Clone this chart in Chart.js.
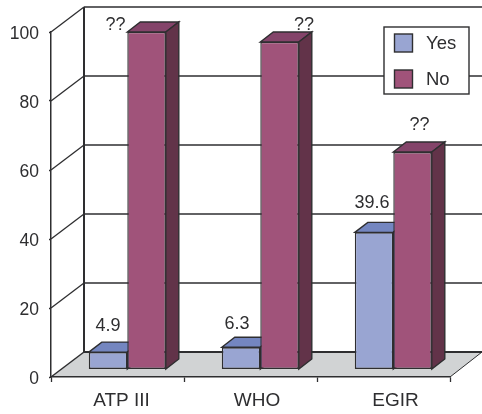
<!DOCTYPE html>
<html>
<head>
<meta charset="utf-8">
<title>ATP III, WHO, EGIR</title>
<script src="https://cdn.jsdelivr.net/npm/chart.js@4"></script>
<style>
    html, body { margin: 0; padding: 0; background: #fff; }
    canvas { display: block; }
</style>
</head>
<body>
<canvas id="chart" width="482" height="414"></canvas>
<script>
const categories = ["ATP III", "WHO", "EGIR"];
const yesValues = [4.9, 6.3, 39.6];
const noValues = [97.7, 94.8, 62.9];
const yesLabels = ["4.9", "6.3", "39.6"];
const noLabels = ["??", "??", "??"];

const FONT = '"Liberation Sans", Arial, sans-serif';
const INK = "#2e2e30";
const YES = { front: "#99a5d2", top: "#7486c0", side: "#5f6ea6" };
const NO = { front: "#a0537a", top: "#84446a", side: "#623349" };

// depth of the floor and of the bars, in pixels
const WALL_DX = 33, WALL_DY = 25;
const BAR_DX = 13, BAR_DY = 10;
const BAR_SHIFT = 9.8;

// hand placement of the text above the bars
const yesNudge = [[0, -26], [-4, -23], [-2, -29]];
const noNudge = [[-31, -7], [24.5, -17], [7, -27]];
const catNudge = [4, 6.5, 12];

function poly(ctx, pts, fill, stroke, lw) {
    ctx.beginPath();
    pts.forEach((p, i) => i ? ctx.lineTo(p[0], p[1]) : ctx.moveTo(p[0], p[1]));
    ctx.closePath();
    if (fill) {
        ctx.fillStyle = fill;
        ctx.fill();
    }
    if (stroke) {
        ctx.strokeStyle = stroke;
        ctx.lineWidth = lw;
        ctx.stroke();
    }
}

function line(ctx, x1, y1, x2, y2, lw) {
    ctx.beginPath();
    ctx.moveTo(x1, y1);
    ctx.lineTo(x2, y2);
    ctx.strokeStyle = INK;
    ctx.lineWidth = lw;
    ctx.stroke();
}

const wallPlugin = {
    id: "wall",
    beforeDraw(chart) {
        const ctx = chart.ctx, a = chart.chartArea, y = chart.scales.y;
        ctx.save();
        ctx.fillStyle = "#fff";
        ctx.fillRect(0, 0, chart.width, chart.height);
        poly(ctx, [[a.left, a.bottom], [a.left + WALL_DX, a.bottom - WALL_DY],
            [chart.width, a.bottom - WALL_DY], [a.right, a.bottom]], "#d1d3d4");
        [20, 40, 60, 80, 100].forEach(v => {
            const py = y.getPixelForValue(v);
            line(ctx, a.left, py, a.left + WALL_DX, py - WALL_DY, 1.3);
            if (v < 100)
                line(ctx, a.left + WALL_DX, py - WALL_DY, chart.width, py - WALL_DY, 1.3);
        });
        line(ctx, a.left, a.bottom, a.left + WALL_DX, a.bottom - WALL_DY, 1.5);
        line(ctx, a.left + WALL_DX, a.top - WALL_DY, chart.width, a.top - WALL_DY, 1.6);
        line(ctx, a.left + WALL_DX, a.top - WALL_DY, a.left + WALL_DX, a.bottom - WALL_DY, 2);
        line(ctx, a.left + WALL_DX, a.bottom - WALL_DY, chart.width, a.bottom - WALL_DY, 2);
        line(ctx, a.right, a.bottom, chart.width, a.bottom - WALL_DY, 1);
        ctx.restore();
    }
};

const depthPlugin = {
    id: "depth",
    beforeDatasetsDraw(chart) {
        const ctx = chart.ctx;
        ctx.save();
        ctx.translate(BAR_SHIFT, 0);
        chart.data.datasets.forEach((ds, i) => {
            const c = i === 0 ? YES : NO;
            chart.getDatasetMeta(i).data.forEach(bar => {
                const l = bar.x - bar.width / 2, r = bar.x + bar.width / 2;
                poly(ctx, [[l, bar.y], [l + BAR_DX, bar.y - BAR_DY], [r + BAR_DX, bar.y - BAR_DY], [r, bar.y]],
                    c.top, INK, 1.4);
                poly(ctx, [[r, bar.y], [r + BAR_DX, bar.y - BAR_DY], [r + BAR_DX, bar.base - BAR_DY], [r, bar.base]],
                    c.side, INK, 1.4);
            });
        });
    },
    afterDatasetsDraw(chart) {
        chart.ctx.restore();
    }
};

const textPlugin = {
    id: "texts",
    afterDraw(chart) {
        const ctx = chart.ctx, x = chart.scales.x;
        ctx.save();
        ctx.fillStyle = INK;
        ctx.textAlign = "center";
        ctx.textBaseline = "middle";
        ctx.font = "18px " + FONT;
        [yesLabels, noLabels].forEach((texts, i) => {
            const nudge = i === 0 ? yesNudge : noNudge;
            chart.getDatasetMeta(i).data.forEach((bar, k) => {
                ctx.fillText(texts[k], bar.x + BAR_SHIFT + nudge[k][0], bar.y + nudge[k][1]);
            });
        });
        ctx.font = "19px " + FONT;
        categories.forEach((c, k) => {
            ctx.fillText(c, x.getPixelForValue(k) + catNudge[k], 401);
        });

        // legend box, over the grid lines
        ctx.fillStyle = "#fff";
        ctx.fillRect(384, 27, 85, 67);
        ctx.strokeStyle = INK;
        ctx.lineWidth = 1.4;
        ctx.strokeRect(384, 27, 85, 67);
        ctx.font = "18.5px " + FONT;
        chart.data.datasets.forEach((ds, i) => {
            const top = i === 0 ? 34 : 70;
            ctx.fillStyle = ds.backgroundColor;
            ctx.fillRect(394.5, top, 18, 18);
            ctx.strokeRect(394.5, top, 18, 18);
            ctx.fillStyle = INK;
            ctx.textAlign = "left";
            ctx.fillText(ds.label, 426, top + 9.5);
        });
        ctx.restore();
    }
};

new Chart(document.getElementById("chart"), {
    type: "bar",
    data: {
        labels: categories,
        datasets: [
            { label: "Yes", data: yesValues, backgroundColor: YES.front, yAxisID: "yBars" },
            { label: "No", data: noValues, backgroundColor: NO.front, yAxisID: "yBars" }
        ]
    },
    plugins: [wallPlugin, depthPlugin, textPlugin],
    options: {
        responsive: false,
        animation: false,
        layout: { padding: { top: 32, right: 32, left: 0, bottom: 0 } },
        datasets: {
            bar: {
                barPercentage: 1,
                categoryPercentage: 0.579,
                borderWidth: 1.4,
                borderColor: INK,
                borderSkipped: false,
                clip: false
            }
        },
        plugins: {
            legend: { display: false },
            tooltip: { enabled: false }
        },
        scales: {
            x: {
                afterFit(s) { s.height = 37; },
                border: { color: INK, width: 1.5 },
                grid: { offset: true, drawOnChartArea: false, tickLength: 5, tickColor: INK, tickWidth: 1.3 },
                ticks: { display: false }
            },
            y: {
                min: 0,
                max: 100,
                afterFit(s) { s.width = 51; },
                border: { color: INK, width: 1.5 },
                grid: { drawOnChartArea: false, tickLength: 2, tickColor: INK, tickWidth: 1.3 },
                ticks: {
                    stepSize: 20,
                    padding: 10,
                    labelOffset: 2.5,
                    color: INK,
                    font: { family: FONT, size: 17.5 }
                }
            },
            // bars stand part way into the floor, so their zero sits above the front edge
            yBars: {
                display: false,
                min: -2.32,
                max: 97.68
            }
        }
    }
});
</script>
</body>
</html>
